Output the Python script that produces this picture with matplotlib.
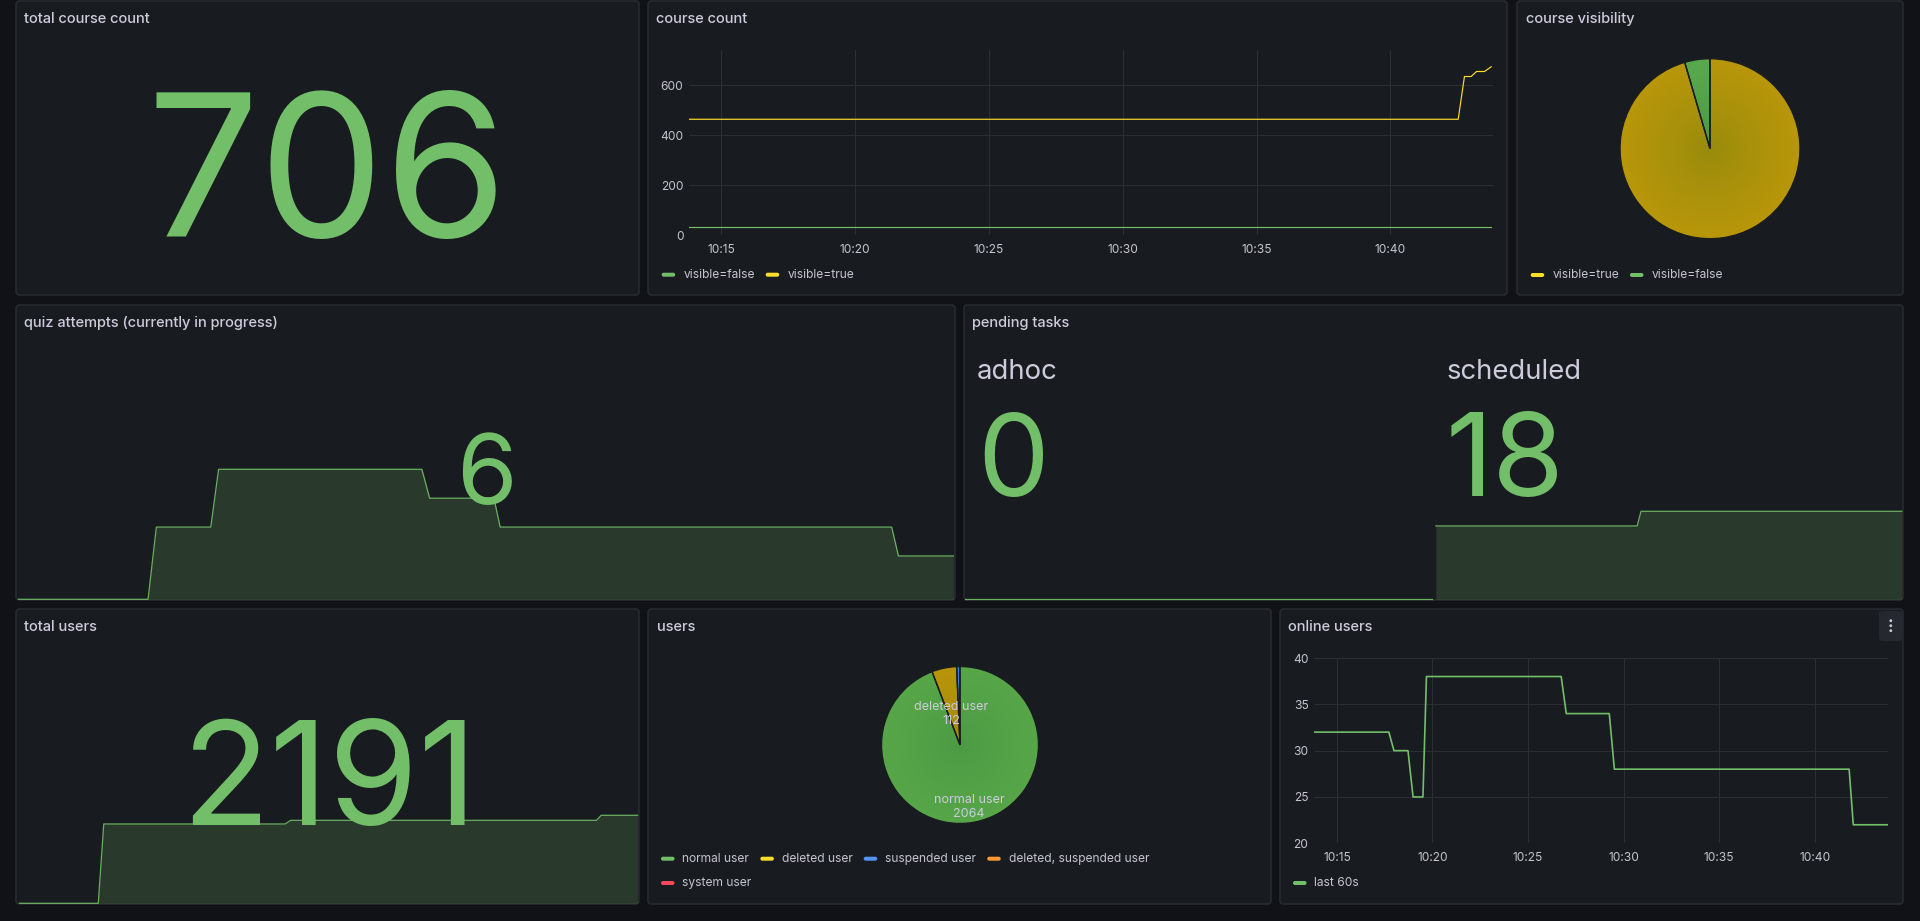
import matplotlib
matplotlib.use("Agg")
import matplotlib.pyplot as plt
import matplotlib.dates as mdates
import matplotlib.transforms as mtransforms
from matplotlib.patches import FancyBboxPatch, Circle
import numpy as np
import pandas as pd

# ------------------------------------------------------------------ data
DAY = "2024-01-01 "
range_start, range_end = "10:13:48", "10:43:50"

course_true_times = ["10:13:48", "10:42:32", "10:42:46", "10:43:01", "10:43:13", "10:43:31", "10:43:46"]
course_true_vals = [464, 464, 635, 635, 655, 655, 674]
course_false_times = ["10:13:48", "10:43:46"]
course_false_vals = [32, 32]

visibility_labels = ["visible=true", "visible=false"]

quiz_times = ["10:13:45", "10:17:55", "10:18:11", "10:19:56", "10:20:11", "10:26:43", "10:26:58",
              "10:29:02", "10:29:14", "10:41:49", "10:42:02", "10:43:48"]
quiz_vals = [0, 0, 10, 10, 18, 18, 14, 14, 10, 10, 6, 6]

adhoc_times = ["10:13:45", "10:43:48"]
adhoc_vals = [0, 0]
scheduled_times = ["10:13:45", "10:26:44", "10:26:59", "10:43:48"]
scheduled_vals = [15, 15, 18, 18]

users_total_times = ["10:13:45", "10:17:35", "10:17:51", "10:26:40", "10:26:56", "10:41:48", "10:42:02", "10:43:48"]
users_total_vals = [0, 0, 1975, 1975, 2066, 2066, 2191, 2191]

user_labels = ["normal user", "deleted user", "suspended user", "deleted, suspended user", "system user"]
user_counts = [2064, 112, 15, 0, 0]

online_times = ["10:13:45", "10:17:43", "10:17:59", "10:18:43", "10:18:59", "10:19:30", "10:19:41",
                "10:26:44", "10:27:00", "10:29:15", "10:29:31", "10:41:48", "10:42:01", "10:43:48"]
online_vals = [32, 32, 30, 30, 25, 25, 38, 38, 34, 34, 28, 28, 22, 22]

# ------------------------------------------------------------------ style
W, H = 1920, 921
BG = "#111217"
PANEL = "#181b1f"
BORDER = "#2a2d32"
TEXT = "#ccccdc"
TICK = "#c4c5cf"
GRID = "#2b2e33"
GREEN = "#73bf69"
YELLOW = "#fade2a"
BLUE = "#5794f2"
ORANGE = "#ff9830"
RED = "#f2495c"
FONT = ["Inter", "DejaVu Sans"]

plt.rcParams["font.family"] = FONT

def px(p):
    return p * 0.72  # pixel -> points at dpi 100

fig = plt.figure(figsize=(W / 100, H / 100), dpi=100, facecolor=BG)
T = mtransforms.Affine2D().scale(1 / W, -1 / H).translate(0, 1) + fig.transFigure


def tnum(lst):
    return mdates.date2num(pd.to_datetime([DAY + s for s in lst]))


def panel(x0, y0, x1, y1, title):
    p = FancyBboxPatch((x0, y0), x1 - x0, y1 - y0, boxstyle="round,pad=0,rounding_size=3",
                       transform=T, facecolor=PANEL, edgecolor=BORDER, linewidth=1, zorder=-5)
    fig.patches.append(p)
    fig.text(x0 + 8.5, y0 + 18, title, transform=T, color=TEXT, fontsize=px(14.6),
             va="center", ha="left", fontweight=500)


def add_ax(x0, y0, x1, y1):
    ax = fig.add_axes([x0 / W, 1 - y1 / H, (x1 - x0) / W, (y1 - y0) / H])
    ax.set_facecolor("none")
    return ax


def legend(x, y, items, row_h=24.3):
    r = fig.canvas.get_renderer()
    cy = y
    for row in items:
        cx = x
        for lab, col in row:
            bar = FancyBboxPatch((cx, cy - 2), 13.5, 4, boxstyle="round,pad=0,rounding_size=2",
                                 transform=T, facecolor=col, edgecolor="none", zorder=3)
            fig.patches.append(bar)
            t = fig.text(cx + 21.5, cy, lab, transform=T, color=TICK, fontsize=px(12),
                         va="center", ha="left")
            w = t.get_window_extent(r).width
            cx += 21.5 + w + 11
        cy += row_h


def timeseries_axes(ax, ylim, yticks):
    ax.set_xlim(tnum([range_start])[0], tnum([range_end])[0])
    ax.set_ylim(*ylim)
    ax.set_yticks(yticks)
    ax.xaxis.set_major_locator(mdates.MinuteLocator(byminute=range(0, 60, 5)))
    ax.xaxis.set_major_formatter(mdates.DateFormatter("%H:%M"))
    for s in ax.spines.values():
        s.set_visible(False)
    ax.grid(True, color=GRID, linewidth=0.75)
    ax.set_axisbelow(True)
    ax.tick_params(axis="both", length=0, labelsize=px(12), labelcolor=TICK)
    ax.tick_params(axis="y", pad=4)
    ax.tick_params(axis="x", pad=6)


def sparkline(ax, times, vals, ymax):
    tt = tnum(times)
    ax.fill_between(tt, vals, 0, color=GREEN, alpha=0.19, linewidth=0)
    ax.plot(tt, vals, color=GREEN, linewidth=0.9, clip_on=False, alpha=0.9)
    ax.set_xlim(tt[0], tt[-1])
    ax.set_ylim(0, ymax)
    ax.axis("off")


def mix(c1, c2, t):
    a = np.array(matplotlib.colors.to_rgb(c1))
    b = np.array(matplotlib.colors.to_rgb(c2))
    return tuple(a * (1 - t) + b * t)


def gradient_pie(ax, vals, edge_cols, center_cols, n=30):
    vals = np.asarray(vals, dtype=float)
    keep = vals > 0
    v = vals[keep]
    ec = [c for c, k in zip(edge_cols, keep) if k]
    cc = [c for c, k in zip(center_cols, keep) if k]
    for k in range(n):
        rr = 1 - k / n
        cols = [mix(c0, c1, rr ** 0.8) for c0, c1 in zip(cc, ec)]
        ax.pie(v, colors=cols, radius=rr, startangle=90, counterclock=False,
               wedgeprops=dict(linewidth=0, antialiased=True))
    ax.pie(v, colors=["none"] * len(v), radius=1, startangle=90, counterclock=False,
           wedgeprops=dict(linewidth=1.0, edgecolor="#1a1c20", fill=False))
    ax.set_xlim(-1, 1)
    ax.set_ylim(-1, 1)
    ax.set_aspect("auto")
    return v


def stat_value(x, y, s, size_px, ha="center"):
    fig.text(x, y, s, transform=T, color=GREEN, fontsize=px(size_px), ha=ha, va="baseline", zorder=5)

# ------------------------------------------------------------------ row 1
panel(16, 1, 639, 295, "total course count")
stat_value(327, 236.7, str(course_true_vals[-1] + course_false_vals[-1]), 199)

panel(648, 1, 1507, 295, "course count")
ax = add_ax(689, 50, 1493, 235.3)
ax.plot(tnum(course_false_times), course_false_vals, color=GREEN, linewidth=0.85)
ax.plot(tnum(course_true_times), course_true_vals, color=YELLOW, linewidth=0.85)
timeseries_axes(ax, (0, 741), [0, 200, 400, 600])
legend(661.7, 274.7, [[("visible=false", GREEN), ("visible=true", YELLOW)]])

panel(1517, 1, 1903, 295, "course visibility")
ax = add_ax(1620, 58.7, 1800, 238.7)
gradient_pie(ax, [course_true_vals[-1], course_false_vals[-1]],
             ["#b8960a", "#58a84c"], ["#958a0c", "#4a9844"])
legend(1530.7, 275, [[(visibility_labels[0], YELLOW), (visibility_labels[1], GREEN)]])

# ------------------------------------------------------------------ row 2
panel(16, 305, 955, 600, "quiz attempts (currently in progress)")
ax = add_ax(18.4, 469.3, 953.4, 599.3)
sparkline(ax, quiz_times, quiz_vals, max(quiz_vals))
stat_value(486, 504, str(quiz_vals[-1]), 98)

panel(964, 305, 1903, 600, "pending tasks")
ax = add_ax(965, 511.3, 1431.5, 599.3)
sparkline(ax, adhoc_times, adhoc_vals, max(scheduled_vals))
ax = add_ax(1435.8, 511.3, 1901.8, 599.3)
sparkline(ax, scheduled_times, scheduled_vals, max(scheduled_vals))
fig.text(977, 379, "adhoc", transform=T, color=TEXT, fontsize=px(27.5), ha="left", va="baseline")
fig.text(1447, 379, "scheduled", transform=T, color=TEXT, fontsize=px(27.5), ha="left", va="baseline")
stat_value(977, 495.5, str(adhoc_vals[-1]), 114, ha="left")
stat_value(1446, 496.3, str(scheduled_vals[-1]), 116, ha="left")

# ------------------------------------------------------------------ row 3
panel(16, 609, 639, 904, "total users")
ax = add_ax(19.4, 815.3, 637.6, 903.3)
sparkline(ax, users_total_times, users_total_vals, max(users_total_vals))
stat_value(329, 824.7, str(users_total_vals[-1]), 145)

panel(648, 609, 1271, 904, "users")
ax = add_ax(960 - 78.5, 745 - 78.5, 960 + 78.5, 745 + 78.5)
edge_cols = ["#56a648", "#b8950a", "#3f7fe0", "#d9822b", "#d4404f"]
center_cols = ["#4b9944", "#9d880c", "#3a6fc0", "#b86f25", "#b83745"]
gradient_pie(ax, user_counts, edge_cols, center_cols)
# slice labels
tot = float(sum(user_counts))
start = 0.0
label_r = {"normal user": 0.8, "deleted user": 0.4}
for lab, c in zip(user_labels, user_counts):
    frac = c / tot
    mid = (start + frac / 2) * 2 * np.pi
    start += frac
    if lab in label_r:
        rr = label_r[lab]
        ax.text(rr * np.sin(mid) - 0.03, rr * np.cos(mid), f"{lab}\n{c}", ha="center", va="center",
                color=TEXT, fontsize=px(12.6), linespacing=1.22)
legend(661, 858.7, [[(user_labels[0], GREEN), (user_labels[1], YELLOW), (user_labels[2], BLUE),
                     (user_labels[3], ORANGE)], [(user_labels[4], RED)]])

panel(1280, 609, 1903, 904, "online users")
ax = add_ax(1314, 658, 1888, 843.3)
ax.plot(tnum(online_times), online_vals, color=GREEN, linewidth=1.2)
timeseries_axes(ax, (20, 40), [20, 25, 30, 35, 40])
legend(1293, 883, [[("last 60s", GREEN)]])
# panel menu button
fig.patches.append(FancyBboxPatch((1879, 611), 24, 30, boxstyle="round,pad=0,rounding_size=4",
                                  transform=T, facecolor="#25282e", edgecolor="none", zorder=2))
for dy in (620.7, 625.7, 630.7):
    fig.patches.append(Circle((1890.8, dy), 1.4, transform=T, facecolor=TEXT, edgecolor="none", zorder=3))

fig.savefig("out.png", dpi=100, facecolor=BG)
